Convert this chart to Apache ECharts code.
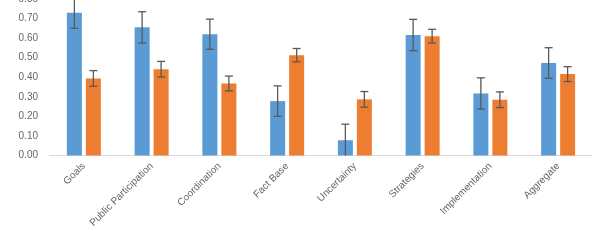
<!DOCTYPE html>
<html><head><meta charset="utf-8">
<script src="https://cdn.jsdelivr.net/npm/echarts@6/dist/echarts.min.js"></script>
<style>html,body{margin:0;padding:0;background:#fff}#c{width:600px;height:240px}</style>
</head><body><div id="c"></div>
<script>
const categories = ['Goals','Public Participation','Coordination','Fact Base','Uncertainty','Strategies','Implementation','Aggregate'];
const blueValues = [0.73,0.655,0.62,0.278,0.078,0.616,0.317,0.473];
const blueErrors = [0.08,0.08,0.077,0.078,0.082,0.08,0.08,0.078];
const orangeValues = [0.394,0.441,0.368,0.513,0.287,0.61,0.285,0.416];
const orangeErrors = [0.04,0.04,0.038,0.034,0.04,0.035,0.04,0.038];
const yTicks = [0,0.1,0.2,0.3,0.4,0.5,0.6,0.7,0.8];

const BAR_W = 15, GAP = 4;
function errSeries(values, errs, side){
  return {
    type:'custom', z:10,
    data: values.map((v,i)=>[i, v, v-errs[i], v+errs[i]]),
    renderItem:function(params, api){
      const x0 = api.coord([api.value(0), api.value(1)]);
      const lo = api.coord([api.value(0), Math.max(0, api.value(2))]);
      const hi = api.coord([api.value(0), api.value(3)]);
      const x = x0[0] + side*(BAR_W+GAP)/2;
      const cw = 4;
      const style = {stroke:'#595959', lineWidth:1.3, fill:null};
      const children = [
        {type:'line', shape:{x1:x,y1:hi[1],x2:x,y2:lo[1]}, style},
        {type:'line', shape:{x1:x-cw,y1:hi[1],x2:x+cw,y2:hi[1]}, style},
      ];
      if (api.value(2) > 0) children.push({type:'line', shape:{x1:x-cw,y1:lo[1],x2:x+cw,y2:lo[1]}, style});
      return {type:'group', children};
    }
  };
}

const chart = echarts.init(document.getElementById('c'), null, {renderer:'canvas'});
chart.setOption({
  animation:false,
  grid:{left:50, right:8, top:-1, bottom:84.5, outerBoundsMode:'none', containLabel:false},
  xAxis:{
    type:'category', data:categories,
    axisLine:{lineStyle:{color:'#d9d9d9', width:1}},
    axisTick:{show:false},
    axisLabel:{rotate:45, interval:0, color:'#666666', fontSize:10, fontFamily:'Liberation Sans', margin:9}
  },
  yAxis:{
    type:'value', min:yTicks[0], max:yTicks[yTicks.length-1], interval:0.1,
    axisLine:{show:false}, axisTick:{show:false}, splitLine:{show:false},
    axisLabel:{color:'#666666', fontSize:10, fontFamily:'Liberation Sans', margin:12, formatter:v=>v.toFixed(2)}
  },
  series:[
    {type:'bar', data:blueValues, barWidth:BAR_W, barGap:(GAP/BAR_W*100)+'%', itemStyle:{color:'#5B9BD5'}},
    {type:'bar', data:orangeValues, barWidth:BAR_W, itemStyle:{color:'#ED7D31'}},
    errSeries(blueValues, blueErrors, -1),
    errSeries(orangeValues, orangeErrors, 1)
  ]
});
</script></body></html>
